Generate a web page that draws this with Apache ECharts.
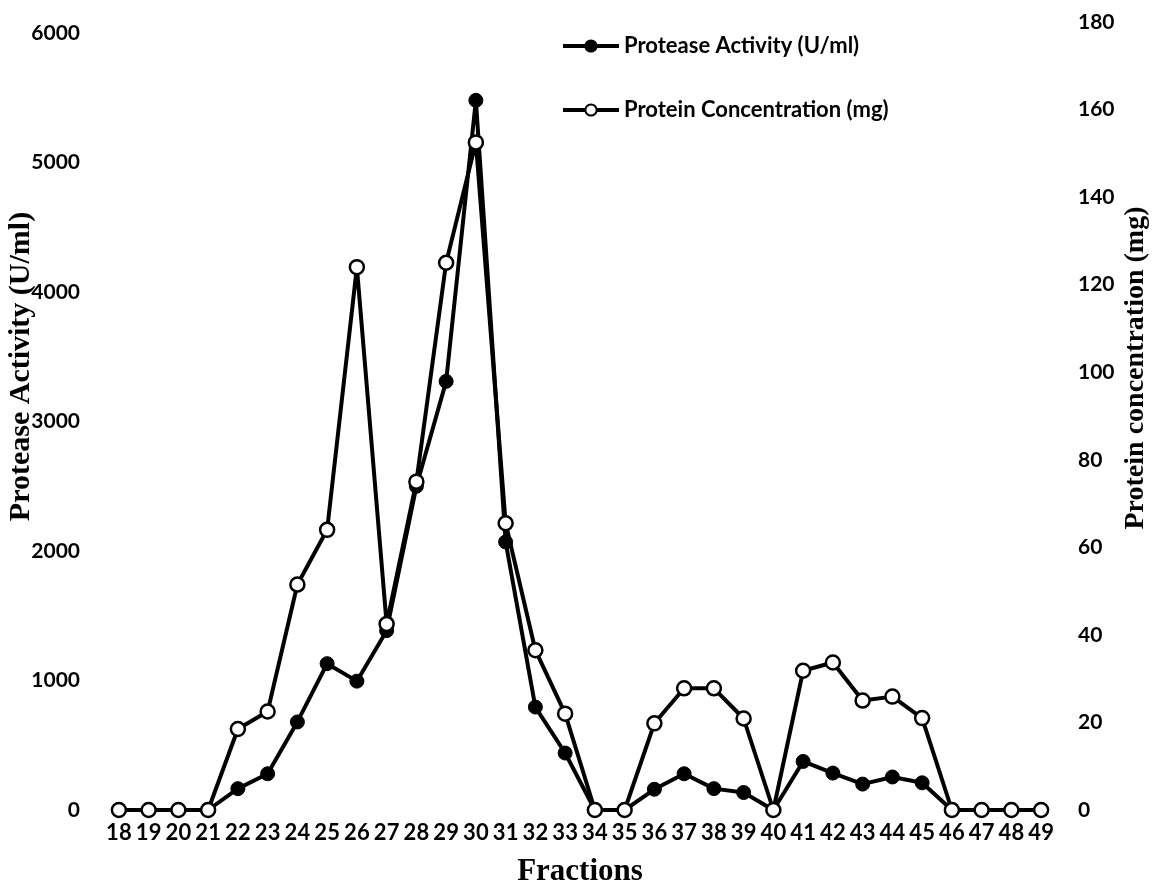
<!DOCTYPE html>
<html>
<head>
<meta charset="utf-8">
<script src="https://cdn.jsdelivr.net/npm/echarts@6/dist/echarts.min.js"></script>
<style>
html,body{margin:0;padding:0;background:#fff;}
#chart{width:1152px;height:886px;}
</style>
</head>
<body>
<div id="chart"></div>
<script>
var fractions = ['18','19','20','21','22','23','24','25','26','27','28','29','30','31','32','33','34','35','36','37','38','39','40','41','42','43','44','45','46','47','48','49'];
var proteaseActivity = [0,0,0,0,165,280,680,1130,995,1385,2500,3310,5480,2070,795,440,0,0,160,280,165,135,0,375,285,200,255,210,0,0,0,0];
var proteinConcentration = [0,0,0,0,18.5,22.5,51.5,64,124,42.5,75,125,152.5,65.5,36.5,22,0,0,19.8,27.8,27.8,20.9,0,31.8,33.7,25,25.9,21,0,0,0,0];
var leftTicks = {min:0, max:6000, interval:1000};
var rightTicks = {min:0, max:180, interval:20};

var tickFont = {fontFamily:'Lato', fontWeight:'bold', fontSize:21, color:'#000'};
var nameFont = {fontFamily:'Liberation Serif', fontWeight:'bold', fontSize:28, color:'#000'};
function plain(v){ return String(v); }

var chart = echarts.init(document.getElementById('chart'), null, {renderer:'canvas'});
chart.setOption({
  animation:false,
  backgroundColor:'#fff',
  legend:{
    orient:'vertical', left:561, top:35, itemGap:42, padding:0,
    itemWidth:56, itemHeight:14,
    lineStyle:{width:4},
    textStyle:{fontFamily:'Lato', fontWeight:'bold', fontSize:22, color:'#000'},
    data:['Protease Activity (U/ml)','Protein Concentration (mg)']
  },
  grid:[
    {left:104, right:96, top:33, bottom:76, outerBoundsMode:'none', containLabel:false},
    {left:104, right:96, top:22, bottom:76, outerBoundsMode:'none', containLabel:false}
  ],
  xAxis:[
    {type:'category', gridIndex:0, data:fractions, boundaryGap:true,
     axisLine:{show:false}, axisTick:{show:false}, splitLine:{show:false},
     axisLabel:Object.assign({interval:0, margin:12}, tickFont, {fontSize:22}),
     name:'Fractions', nameLocation:'middle', nameGap:46, nameMoveOverlap:false,
     nameTextStyle:Object.assign({}, nameFont, {fontSize:31})},
    {type:'category', gridIndex:1, data:fractions, boundaryGap:true, show:false}
  ],
  yAxis:[
    {type:'value', gridIndex:0, position:'left', min:leftTicks.min, max:leftTicks.max, interval:leftTicks.interval,
     axisLine:{show:false}, axisTick:{show:false}, splitLine:{show:false},
     axisLabel:Object.assign({margin:24, formatter:plain}, tickFont),
     name:'Protease Activity (U/ml)', nameLocation:'middle', nameGap:68, nameMoveOverlap:false,
     nameTextStyle:Object.assign({}, nameFont, {fontSize:30, padding:[0,0,0,110]})},
    {type:'value', gridIndex:1, position:'right', min:rightTicks.min, max:rightTicks.max, interval:rightTicks.interval,
     axisLine:{show:false}, axisTick:{show:false}, splitLine:{show:false},
     axisLabel:Object.assign({margin:22, formatter:plain}, tickFont),
     name:'Protein concentration (mg)', nameLocation:'middle', nameGap:66, nameMoveOverlap:false,
     nameTextStyle:Object.assign({padding:[0,0,0,96]}, nameFont)}
  ],
  series:[
    {name:'Protease Activity (U/ml)', type:'line', xAxisIndex:0, yAxisIndex:0, data:proteaseActivity,
     symbol:'circle', symbolSize:14, z:2,
     lineStyle:{color:'#000', width:4},
     itemStyle:{color:'#000', borderColor:'#000', borderWidth:1}},
    {name:'Protein Concentration (mg)', type:'line', xAxisIndex:1, yAxisIndex:1, data:proteinConcentration,
     symbol:'circle', symbolSize:14, z:3,
     lineStyle:{color:'#000', width:4},
     itemStyle:{color:'#fff', borderColor:'#000', borderWidth:2.5}}
  ]
});
</script>
</body>
</html>
